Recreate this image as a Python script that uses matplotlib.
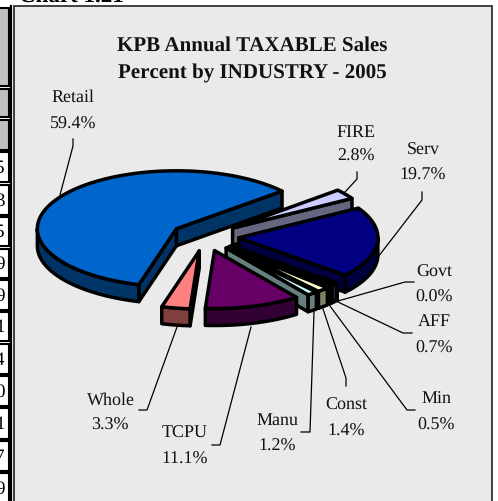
import numpy as np
import matplotlib
matplotlib.use("Agg")
import matplotlib.pyplot as plt
from matplotlib.patches import Polygon, Rectangle

plt.rcParams['font.family'] = ['Liberation Serif', 'DejaVu Serif']
plt.rcParams['text.hinting'] = 'no_hinting'
plt.rcParams['text.hinting_factor'] = 1

# ---- data (percent share), counter-clockwise from the FIRE/Retail boundary
industries = ["Retail", "Whole", "TCPU", "Manu", "Const", "Min", "AFF", "Govt", "Serv", "FIRE"]
shares = [59.4, 3.3, 11.1, 1.2, 1.4, 0.5, 0.7, 0.0, 19.7, 2.8]
top_colors = ["#0066CC", "#FF8080", "#660066", "#CCFFFF", "#FFFFCC", "#993366", "#9999FF", "#000000", "#000080", "#CCCCFF"]
side_colors = ["#003366", "#804040", "#330033", "#668080", "#808066", "#4D1A33", "#4D4D80", "#000000", "#000040", "#666680"]
explode = [1, 1, 1, 1, 1, 1, 1, 1, 1, 1]
draw_order = ["Retail", "FIRE", "Serv", "Govt", "AFF", "Min", "Const", "Manu", "TCPU", "Whole"]

title_lines = ["KPB Annual TAXABLE Sales", "Percent by INDUSTRY - 2005"]
clipped_digits = ["5", "3", "5", "9", "9", "1", "4", "0", "1", "7", "9"]
gray_rows = [(9, 87), (90, 118), (121, 151)]
white_rows = [(153, 183), (186, 216), (218, 247), (250, 279), (281, 311), (313, 342),
              (345, 375), (377, 407), (409, 440), (442, 472), (474, 504)]

# label text, centre of text block, leader path
labels = {
    "Retail": ((73, 97), (73, 122), [(73, 140), (73, 147), (60, 196)]),
    "FIRE": ((356, 132), (356, 154), [(357, 173), (357, 180), (345, 193)]),
    "Serv": ((423, 150), (423, 173), [(422, 193), (422, 201), (378, 258)]),
    "Govt": ((434, 272), (434, 295), [(414, 283), (405, 283), (338, 302)]),
    "AFF": ((434, 321), (434, 346), [(412, 334), (403, 334), (338, 303)]),
    "Min": ((436, 398), (436, 423), [(415, 411), (407, 411), (330, 307)]),
    "Const": ((346, 405), (346, 429), [(346, 387), (346, 379), (323, 310)]),
    "Manu": ((277, 420), (277, 444), [(301, 433), (310, 433), (314, 313)]),
    "TCPU": ((185, 433), (185, 457), [(212, 446), (220, 446), (251, 328)]),
    "Whole": ((111, 399), (110, 423), [(139, 411), (147, 411), (177, 328)]),
}

# ---- pie projection
CX, CY = 205.0, 237.6
RX, RY = 139.0, 58.0
EX, EY = 34.0, 14.5
DEPTH = 17.0
START = 40.5


def pt(center, a, r=1.0):
    t = np.radians(a)
    return center[0] + r * RX * np.cos(t), center[1] - r * RY * np.sin(t)


fig = plt.figure(figsize=(4.98, 5.02), dpi=100, facecolor="white")
ax = fig.add_axes([0, 0, 1, 1])
ax.set_xlim(0, 498)
ax.set_ylim(502, 0)
ax.axis("off")

# ---- surroundings: table fragment and panel
for y0, y1 in gray_rows:
    ax.add_patch(Rectangle((-2, y0), 11, y1 - y0, fc="#C0C0C0", ec="black", lw=1.5))
for (y0, y1), d in zip(white_rows, clipped_digits):
    ax.add_patch(Rectangle((-2, y0), 11, y1 - y0, fc="white", ec="black", lw=1.5))
    ax.text(4.5, (y0 + y1) / 2, d, ha="right", va="center", fontsize=14, color="black", clip_on=True)
ax.plot([11, 11], [7, 502], color="black", lw=1.6)
ax.add_patch(Rectangle((13.5, 6.5), 478.5, 500, fc="#EAEAEA", ec="#222222", lw=1.2))
ax.text(19, 3, "Chart 1.21", fontsize=16.5, fontweight="bold", va="baseline", ha="left", clip_on=True)

for i, line in enumerate(title_lines):
    ax.text(252.5, 46 + 27 * i, line, fontsize=15.4, fontweight="bold", ha="center", va="center", color="#111111")

# ---- slices
edges = START + np.cumsum([0] + shares[:-1]) * 3.6
ends = edges + np.array(shares) * 3.6
lw = 2.5

for name in draw_order:
    i = industries.index(name)
    a1, a2 = edges[i], ends[i]
    mid = (a1 + a2) / 2
    t = np.radians(mid)
    c = (CX + explode[i] * EX * np.cos(t), CY - explode[i] * EY * np.sin(t))
    down = lambda p: (p[0], p[1] + DEPTH)
    kw = dict(ec="black", lw=lw, joinstyle="round")
    # radial faces that look toward the viewer
    for a, n in ((a1, a1 - 90), (a2, a2 + 90)):
        if np.sin(np.radians(n)) < 0:
            p = pt(c, a)
            ax.add_patch(Polygon([c, p, down(p), down(c)], fc=side_colors[i], **kw))
    # outer wall, front half only
    for k in (0, 360):
        lo, hi = max(a1, 180 + k), min(a2, 360 + k)
        if hi > lo:
            arc = [pt(c, a) for a in np.linspace(lo, hi, 80)]
            ax.add_patch(Polygon(arc + [down(p) for p in arc[::-1]], fc=side_colors[i], **kw))
    # top surface
    arc = [pt(c, a) for a in np.linspace(a1, a2, 200)]
    ax.add_patch(Polygon([c] + arc, fc=top_colors[i], **kw))

# ---- labels
for name, share in zip(industries, shares):
    p1, p2, path = labels[name]
    ax.text(p1[0], p1[1] + 1, name, ha="center", va="center", fontsize=13, color="#111111")
    ax.text(p2[0], p2[1] + 2, f"{share:.1f}%", ha="center", va="center", fontsize=13, color="#111111")
    xs, ys = zip(*path)
    ax.plot(xs, ys, color="black", lw=0.9)

fig.savefig("out.png", dpi=100, facecolor="white")
